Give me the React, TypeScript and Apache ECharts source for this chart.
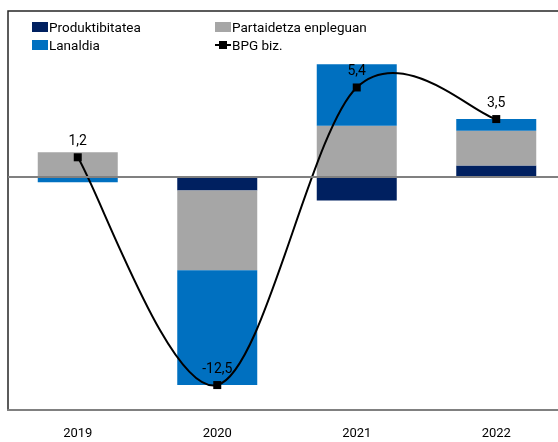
import React, { useEffect, useRef } from "react";
import * as echarts from "echarts";

const years = ["2019", "2020", "2021", "2022"];
const produktibitatea = [0, -0.8, -1.4, 0.7];
const partaidetza = [1.5, -4.8, 3.1, 2.1];
const lanaldia = [-0.3, -6.9, 3.7, 0.7];
const bpg = [1.2, -12.5, 5.4, 3.5];

const FONT = "Roboto, 'Liberation Sans', sans-serif";

export default function App() {
  const ref = useRef<HTMLDivElement>(null);
  useEffect(() => {
    if (!ref.current) return;
    const chart = echarts.init(ref.current, undefined, { renderer: "svg" });
    const fmt = (v: number) => String(v).replace(".", ",");
    const n = bpg.length;
    const legendText = { fontFamily: FONT, fontSize: 13.5, color: "#000", padding: [0, 0, 0, -4] };
    chart.setOption({
      animation: false,
      textStyle: { fontFamily: FONT },
      legend: [
        {
          orient: "vertical",
          left: 32,
          top: 20,
          padding: 0,
          itemWidth: 16,
          itemHeight: 10,
          itemGap: 4,
          textStyle: legendText,
          data: [
            { name: "Produktibitatea", icon: "rect" },
            { name: "Lanaldia", icon: "rect" },
          ],
        },
        {
          orient: "vertical",
          left: 214,
          top: 20,
          padding: 0,
          itemWidth: 16,
          itemHeight: 10,
          itemGap: 4,
          textStyle: legendText,
          data: [
            { name: "Partaidetza enpleguan", icon: "rect" },
            { name: "BPG biz.", lineStyle: { color: "#000", width: 2, opacity: 1 } },
          ],
        },
      ],
      grid: {
        left: 8,
        top: 11,
        right: 0,
        height: 399,
        show: true,
        borderColor: "#262626",
        borderWidth: 1.5,
        containLabel: false,
      },
      xAxis: {
        type: "category",
        data: years,
        position: "bottom",
        axisLine: { onZero: false, lineStyle: { color: "#808080", width: 2 } },
        axisTick: { show: false },
        axisLabel: { fontFamily: FONT, fontSize: 13, color: "#000", margin: 16 },
      },
      yAxis: {
        type: "value",
        min: -14,
        max: 10,
        show: false,
        splitLine: { show: false },
      },
      series: [
        {
          name: "Produktibitatea",
          type: "bar",
          stack: "a",
          barWidth: 80,
          data: produktibitatea,
          itemStyle: { color: "#002060" },
        },
        {
          name: "Partaidetza enpleguan",
          type: "bar",
          stack: "a",
          barWidth: 80,
          data: partaidetza,
          itemStyle: { color: "#A6A6A6" },
        },
        {
          name: "Lanaldia",
          type: "bar",
          stack: "a",
          barWidth: 80,
          data: lanaldia,
          itemStyle: { color: "#0070C0" },
          markLine: {
            silent: true,
            symbol: "none",
            label: { show: false },
            lineStyle: { color: "#808080", width: 2, type: "solid" },
            data: [{ yAxis: 0 }],
          },
        },
        {
          name: "BPG curve",
          type: "custom",
          z: 4,
          silent: true,
          data: bpg.map((v, i) => [i, v]),
          encode: { x: 0, y: 1 },
          renderItem: (params: any, api: any) => {
            const i = params.dataIndex;
            if (i >= n - 1) return null;
            const p = (k: number) => {
              const j = Math.max(0, Math.min(n - 1, k));
              return api.coord([j, bpg[j]]);
            };
            const p0 = p(i - 1);
            const p1 = p(i);
            const p2 = p(i + 1);
            const p3 = p(i + 2);
            const cp1 = [p1[0] + (p2[0] - p0[0]) / 6, p1[1] + (p2[1] - p0[1]) / 6];
            const cp2 = [p2[0] - (p3[0] - p1[0]) / 6, p2[1] - (p3[1] - p1[1]) / 6];
            return {
              type: "bezierCurve",
              shape: {
                x1: p1[0], y1: p1[1],
                x2: p2[0], y2: p2[1],
                cpx1: cp1[0], cpy1: cp1[1],
                cpx2: cp2[0], cpy2: cp2[1],
              },
              style: { stroke: "#000", lineWidth: 2, fill: null },
            };
          },
        },
        {
          name: "BPG biz.",
          type: "line",
          data: bpg,
          symbol: "rect",
          symbolSize: 8,
          z: 5,
          lineStyle: { color: "#000", width: 2, opacity: 0 },
          itemStyle: { color: "#000" },
          label: {
            show: true,
            position: "top",
            distance: 6,
            fontFamily: FONT,
            fontSize: 14,
            color: "#000",
            formatter: (p: any) => fmt(p.value),
          },
        },
      ],
    });
    return () => chart.dispose();
  }, []);
  return <div ref={ref} style={{ position: "fixed", left: 0, top: 0, width: 566, height: 442 }} />;
}
